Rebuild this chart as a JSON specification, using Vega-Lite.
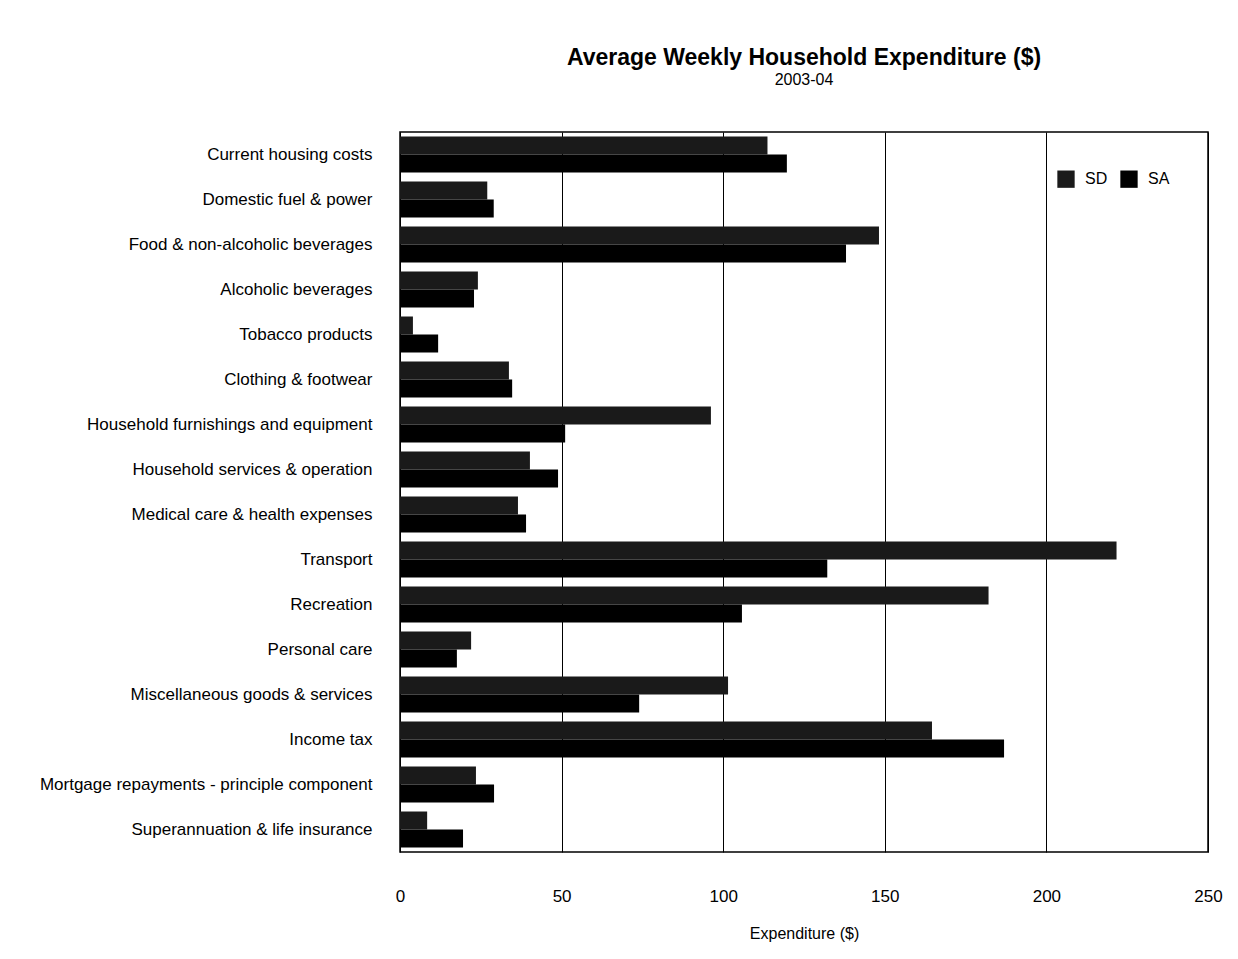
{
  "$schema": "https://vega.github.io/schema/vega-lite/v6.json",
  "width": 808,
  "height": 720,
  "autosize": {"type": "none"},
  "padding": {"left": 400, "top": 132, "right": 30, "bottom": 107},
  "background": "white",
  "title": {
    "text": "Average Weekly Household Expenditure ($)",
    "subtitle": "2003-04",
    "anchor": "middle",
    "frame": "group",
    "font": "Liberation Sans",
    "fontSize": 23,
    "fontWeight": "bold",
    "color": "black",
    "subtitleFont": "Liberation Sans",
    "subtitleFontSize": 16,
    "subtitleColor": "black",
    "subtitlePadding": 2,
    "offset": 44
  },
  "data": {
    "values": [
      {"category": "Current housing costs", "series": "SD", "value": 113.7},
      {"category": "Current housing costs", "series": "SA", "value": 119.7},
      {"category": "Domestic fuel & power", "series": "SD", "value": 27.0},
      {"category": "Domestic fuel & power", "series": "SA", "value": 29.0},
      {"category": "Food & non-alcoholic beverages", "series": "SD", "value": 148.2},
      {"category": "Food & non-alcoholic beverages", "series": "SA", "value": 138.0},
      {"category": "Alcoholic beverages", "series": "SD", "value": 24.1},
      {"category": "Alcoholic beverages", "series": "SA", "value": 22.9},
      {"category": "Tobacco products", "series": "SD", "value": 4.0},
      {"category": "Tobacco products", "series": "SA", "value": 11.8},
      {"category": "Clothing & footwear", "series": "SD", "value": 33.7},
      {"category": "Clothing & footwear", "series": "SA", "value": 34.7},
      {"category": "Household furnishings and equipment", "series": "SD", "value": 96.2},
      {"category": "Household furnishings and equipment", "series": "SA", "value": 51.1},
      {"category": "Household services & operation", "series": "SD", "value": 40.2},
      {"category": "Household services & operation", "series": "SA", "value": 48.9},
      {"category": "Medical care & health expenses", "series": "SD", "value": 36.5},
      {"category": "Medical care & health expenses", "series": "SA", "value": 39.0},
      {"category": "Transport", "series": "SD", "value": 221.7},
      {"category": "Transport", "series": "SA", "value": 132.2},
      {"category": "Recreation", "series": "SD", "value": 182.1},
      {"category": "Recreation", "series": "SA", "value": 105.8},
      {"category": "Personal care", "series": "SD", "value": 22.0},
      {"category": "Personal care", "series": "SA", "value": 17.6},
      {"category": "Miscellaneous goods & services", "series": "SD", "value": 101.5},
      {"category": "Miscellaneous goods & services", "series": "SA", "value": 74.0},
      {"category": "Income tax", "series": "SD", "value": 164.6},
      {"category": "Income tax", "series": "SA", "value": 186.9},
      {"category": "Mortgage repayments - principle component", "series": "SD", "value": 23.5},
      {"category": "Mortgage repayments - principle component", "series": "SA", "value": 29.1},
      {"category": "Superannuation & life insurance", "series": "SD", "value": 8.4},
      {"category": "Superannuation & life insurance", "series": "SA", "value": 19.5}
    ]
  },
  "mark": {"type": "bar"},
  "encoding": {
    "y": {
      "field": "category",
      "type": "nominal",
      "sort": null,
      "scale": {"paddingInner": 0.2, "paddingOuter": 0.1},
      "axis": {
        "title": null,
        "ticks": false,
        "domain": false,
        "labelPadding": 28,
        "labelFont": "Liberation Sans",
        "labelFontSize": 17,
        "labelColor": "black",
        "labelLimit": 400
      }
    },
    "yOffset": {
      "field": "series",
      "type": "nominal",
      "sort": ["SD", "SA"],
      "scale": {"domain": ["SD", "SA"], "paddingInner": 0, "paddingOuter": 0}
    },
    "x": {
      "field": "value",
      "type": "quantitative",
      "scale": {"domain": [0, 250], "nice": false},
      "axis": {
        "title": "Expenditure ($)",
        "values": [0, 50, 100, 150, 200, 250],
        "ticks": false,
        "domain": false,
        "grid": true,
        "gridColor": "black",
        "gridOpacity": 1,
        "gridWidth": 1,
        "labelFlush": false,
        "labelPadding": 36,
        "labelFont": "Liberation Sans",
        "labelFontSize": 17,
        "labelColor": "black",
        "titleFont": "Liberation Sans",
        "titleFontSize": 16,
        "titleFontWeight": "normal",
        "titleColor": "black",
        "titlePadding": 21
      }
    },
    "color": {
      "field": "series",
      "type": "nominal",
      "scale": {"domain": ["SD", "SA"], "range": ["#1a1a1a", "#000000"]},
      "legend": {
        "title": null,
        "orient": "top-right",
        "direction": "horizontal",
        "offset": 38,
        "symbolType": "square",
        "symbolSize": 300,
        "symbolStrokeWidth": 0,
        "labelFont": "Liberation Sans",
        "labelFontSize": 16,
        "labelColor": "black",
        "labelOffset": 10,
        "columnPadding": 12
      }
    }
  },
  "config": {
    "view": {"stroke": "black", "strokeWidth": 1.5}
  }
}
